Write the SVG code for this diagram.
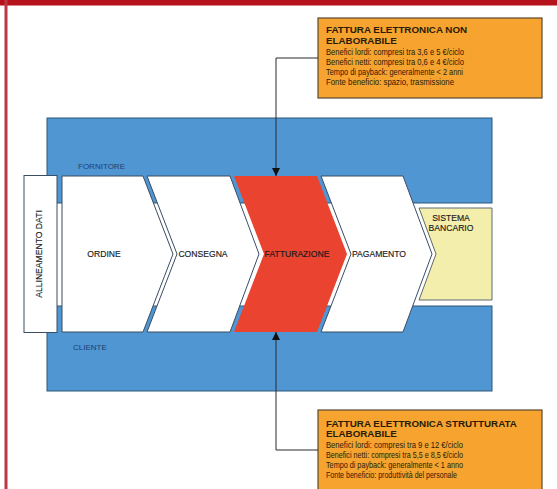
<svg xmlns="http://www.w3.org/2000/svg" width="557" height="489" viewBox="0 0 557 489">
<defs>
<style>
.band{fill:#4f96d2;stroke:#2f5878;stroke-width:1}
.chev{fill:#ffffff;stroke:#3b4d63;stroke-width:1}
.red{fill:#ea4330;stroke:none}
.yel{fill:#f4eeac;stroke:#5e6a70;stroke-width:1}
.box{fill:#f6a32f;stroke:#5b4a33;stroke-width:1.2}
.lbl{font-family:"Liberation Sans",Arial,sans-serif;font-size:8.6px;fill:#1a1a1a;text-anchor:middle;stroke:#1a1a1a;stroke-width:0.15}
.side{font-family:"Liberation Sans",Arial,sans-serif;font-size:8px;fill:#1f3f6e}
.bt{font-family:"Liberation Sans",Arial,sans-serif;font-size:9.8px;font-weight:bold;fill:#2a1c08}
.rt{font-family:"Liberation Sans",Arial,sans-serif;font-size:8.6px;fill:#2a1c08}
.conn{fill:none;stroke:#2b2b2b;stroke-width:1}
</style>
<marker id="arr" viewBox="0 0 10 10" refX="10" refY="5" markerWidth="8" markerHeight="8" markerUnits="userSpaceOnUse" orient="auto">
<path d="M0,0 L10,5 L0,10 Z" fill="#111"/>
</marker>
</defs>
<rect x="0" y="0" width="557" height="489" fill="#ffffff"/>
<rect x="0" y="0" width="557" height="5.5" fill="#b5121b"/>
<rect x="4.5" y="0" width="3" height="489" fill="#bb3842"/>

<g id="fornitore">
<rect class="band" x="47" y="118" width="445" height="85"/>
<text class="side" x="78" y="169">FORNITORE</text>
</g>
<g id="cliente">
<rect class="band" x="47" y="306" width="445" height="85"/>
<text class="side" x="73" y="350">CLIENTE</text>
</g>

<g id="allineamento">
<rect class="chev" x="24" y="175.5" width="33" height="157"/>
<text class="lbl" transform="translate(41.5,254) rotate(-90)" x="0" y="0">ALLINEAMENTO DATI</text>
</g>
<g id="ordine">
<polygon class="chev" points="62,176 143,176 173,254 143,332 62,332"/>
<text class="lbl" x="104" y="257">ORDINE</text>
</g>
<g id="consegna">
<polygon class="chev" points="147,176 230,176 259,254 230,332 147,332 177,254"/>
<text class="lbl" x="203" y="257">CONSEGNA</text>
</g>
<g id="fatturazione">
<polygon class="red" points="234,176 317,176 347,254 317,332 234,332 264,254"/>
<text class="lbl" x="297" y="257">FATTURAZIONE</text>
</g>
<g id="pagamento">
<polygon class="chev" points="321,176 403,176 432,254 403,332 321,332 351,254"/>
<text class="lbl" x="379" y="257">PAGAMENTO</text>
</g>
<g id="sistema-bancario">
<polygon class="yel" points="419,208 492,208 492,300 419,300 436,254"/>
<text class="lbl" x="451" y="221">SISTEMA</text>
<text class="lbl" x="451" y="231">BANCARIO</text>
</g>

<g id="nota-non-elaborabile">
<rect class="box" x="318" y="18" width="224" height="80"/>
<text class="bt" x="326" y="33">FATTURA ELETTRONICA NON</text>
<text class="bt" x="326" y="44">ELABORABILE</text>
<text class="rt" x="326" y="55" textLength="138" lengthAdjust="spacingAndGlyphs">Benefici lordi: compresi tra 3,6 e 5 €/ciclo</text>
<text class="rt" x="326" y="65" textLength="138" lengthAdjust="spacingAndGlyphs">Benefici netti: compresi tra 0,6 e 4 €/ciclo</text>
<text class="rt" x="326" y="75" textLength="137" lengthAdjust="spacingAndGlyphs">Tempo di payback: generalmente &lt; 2 anni</text>
<text class="rt" x="326" y="85" textLength="128" lengthAdjust="spacingAndGlyphs">Fonte beneficio: spazio, trasmissione</text>
</g>

<g id="nota-strutturata">
<rect class="box" x="318" y="410" width="224" height="90"/>
<text class="bt" x="326" y="427">FATTURA ELETTRONICA STRUTTURATA</text>
<text class="bt" x="326" y="437">ELABORABILE</text>
<text class="rt" x="326" y="448" textLength="137" lengthAdjust="spacingAndGlyphs">Benefici lordi: compresi tra 9 e 12 €/ciclo</text>
<text class="rt" x="326" y="458" textLength="137" lengthAdjust="spacingAndGlyphs">Benefici netti: compresi tra 5,5 e 8,5 €/ciclo</text>
<text class="rt" x="326" y="468" textLength="137" lengthAdjust="spacingAndGlyphs">Tempo di payback: generalmente &lt; 1 anno</text>
<text class="rt" x="326" y="478" textLength="131" lengthAdjust="spacingAndGlyphs">Fonte beneficio: produttività del personale</text>
</g>

<g id="connectors">
<path class="conn" d="M318,58 H276 V176" marker-end="url(#arr)"/>
<path class="conn" d="M318,450 H276 V332" marker-end="url(#arr)"/>
</g>
</svg>
